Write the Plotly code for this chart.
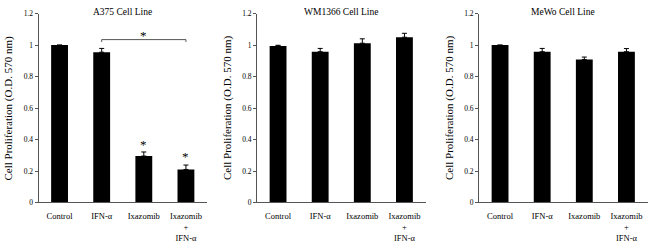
import plotly.graph_objects as go

categories = ["Control", "IFN-α", "Ixazomib", "Ixazomib<br>+<br>IFN-α"]
panel_titles = ["A375 Cell Line", "WM1366 Cell Line", "MeWo Cell Line"]

a375_values = [1.0, 0.955, 0.295, 0.21]
a375_errors = [0.0, 0.024, 0.026, 0.028]
wm1366_values = [0.995, 0.958, 1.012, 1.05]
wm1366_errors = [0.004, 0.021, 0.028, 0.025]
mewo_values = [1.0, 0.958, 0.908, 0.958]
mewo_errors = [0.0, 0.021, 0.016, 0.02]

y_ticks = [0, 0.2, 0.4, 0.6, 0.8, 1.0, 1.2]
y_tick_labels = ["0", "0.2", "0.4", "0.6", "0.8", "1", "1.2"]

# significance stars for A375 (category index, y value)
a375_star_cats = [2, 3]
a375_star_y = [0.37, 0.29]
# bracket between IFN-α and Ixazomib + IFN-α
bracket_cats = [1, 3]
bracket_y = 1.035

FONT = "Liberation Serif, Times New Roman, serif"

values = [a375_values, wm1366_values, mewo_values]
errors = [a375_errors, wm1366_errors, mewo_errors]

domains = [[38.5 / 650, 207 / 650], [257 / 650, 425.5 / 650], [479 / 650, 647.5 / 650]]
ydom = [41 / 247, 237 / 247]

fig = go.Figure()
annotations = []
shapes = []
for i in range(3):
    xa = "x" if i == 0 else f"x{i+1}"
    ya = "y" if i == 0 else f"y{i+1}"
    fig.add_trace(go.Bar(
        x=list(range(4)), y=values[i],
        xaxis=xa, yaxis=ya,
        marker=dict(color="black", line=dict(width=0)),
        error_y=dict(type="data", array=errors[i], arrayminus=[0] * 4, symmetric=False,
                     color="black", thickness=1, width=2.5),
        showlegend=False, hoverinfo="skip",
    ))
    axis_x = dict(domain=domains[i], range=[-0.5, 3.5], tickvals=list(range(4)), ticktext=categories,
                  showline=True, linecolor="#555", linewidth=1, ticks="", showgrid=False,
                  zeroline=False, tickfont=dict(family=FONT, size=8.5, color="black"),
                  ticklabelstandoff=5, anchor=ya, fixedrange=True)
    axis_y = dict(domain=ydom, range=[0, 1.2], tickvals=y_ticks, ticktext=y_tick_labels,
                  showline=True, linecolor="#555", linewidth=1, ticks="outside", ticklen=3,
                  tickcolor="#555", showgrid=False, zeroline=False,
                  tickfont=dict(family=FONT, size=7.5, color="black"), anchor=xa, fixedrange=True)
    key = "" if i == 0 else str(i + 1)
    fig.layout["xaxis" + key] = axis_x
    fig.layout["yaxis" + key] = axis_y
    xc = (domains[i][0] + domains[i][1]) / 2
    annotations.append(dict(text=panel_titles[i], x=xc, y=1 - 8 / 247, xref="paper", yref="paper",
                            showarrow=False, font=dict(family=FONT, size=9.5, color="black"),
                            xanchor="center", yanchor="middle"))
    annotations.append(dict(text="Cell Proliferation (O.D. 570 nm)", textangle=-90,
                            x=domains[i][0] - 30 / 650, y=(ydom[0] + ydom[1]) / 2,
                            xref="paper", yref="paper", showarrow=False,
                            font=dict(family=FONT, size=11, color="black"),
                            xanchor="center", yanchor="middle"))

for c, yv in zip(a375_star_cats, a375_star_y):
    annotations.append(dict(text="*", x=c, y=yv, xref="x", yref="y", showarrow=False,
                            font=dict(family=FONT, size=13, color="black"),
                            xanchor="center", yanchor="middle"))

# bracket
b0, b1 = bracket_cats
shapes.append(dict(type="line", x0=b0, x1=b1, y0=bracket_y, y1=bracket_y, xref="x", yref="y",
                   line=dict(color="#555", width=1)))
for bc in bracket_cats:
    shapes.append(dict(type="line", x0=bc, x1=bc, y0=bracket_y, y1=bracket_y - 0.015,
                       xref="x", yref="y", line=dict(color="#555", width=1)))
annotations.append(dict(text="*", x=(b0 + b1) / 2, y=bracket_y + 0.025, xref="x", yref="y",
                        showarrow=False, font=dict(family=FONT, size=13, color="black"),
                        xanchor="center", yanchor="middle"))

fig.update_layout(
    width=650, height=247, margin=dict(l=0, r=0, t=0, b=0),
    paper_bgcolor="white", plot_bgcolor="white",
    bargap=0.6, annotations=annotations, shapes=shapes,
    font=dict(family=FONT, color="black"), hovermode=False,
)

fig.write_html("out.html", config={"displayModeBar": False, "staticPlot": True})

with open("out.html", "r", encoding="utf-8") as f:
    html = f.read()
html = html.replace("<head>", "<head><style>html,body{margin:0;padding:0;overflow:hidden;}</style>", 1)
with open("out.html", "w", encoding="utf-8") as f:
    f.write(html)
